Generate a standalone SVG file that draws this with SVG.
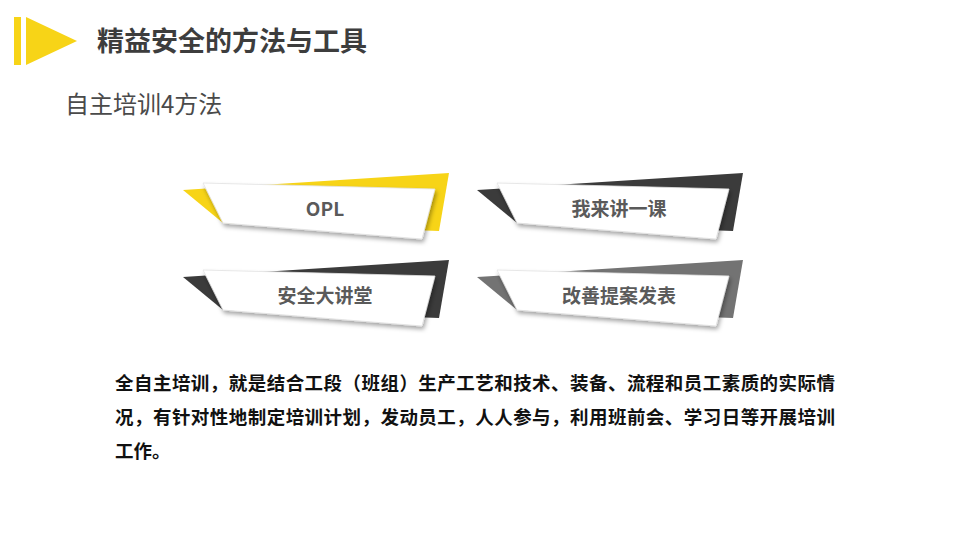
<svg xmlns="http://www.w3.org/2000/svg" width="960" height="540" viewBox="0 0 960 540">
<defs>
<style>
.title{font-family:"Noto Sans CJK SC","Liberation Sans",sans-serif;font-weight:700;font-size:27px;fill:#3d3d3d}
.sub{font-family:"Noto Sans CJK SC","Liberation Sans",sans-serif;font-size:24px;fill:#4a4a4a}
.lbl{font-family:"Noto Sans CJK SC","Liberation Sans",sans-serif;font-weight:700;font-size:19px;fill:#5a5a5a;text-anchor:middle;dominant-baseline:central}
.body{font-family:"Noto Sans CJK SC","Liberation Sans",sans-serif;font-weight:700;font-size:18.5px;fill:#111}
.card{fill:#fff;stroke:#e2e2e2;stroke-width:0.8;filter:url(#sh)}
</style>
<filter id="sh" x="-10%" y="-20%" width="125%" height="160%">
<feDropShadow dx="1.5" dy="3" stdDeviation="2" flood-color="#000" flood-opacity="0.35"/>
</filter>
<polygon id="back" points="0,17 266,0 256,58 40,50"/>
<polygon id="front" points="20,10 252,16 239,66 40,50"/>
</defs>
<g id="header">
<rect x="14" y="17" width="7" height="48" fill="#F7D417"/>
<polygon points="26,17 77,41 26,65" fill="#F7D417"/>
<text class="title" x="97" y="51">精益安全的方法与工具</text>
<text class="sub" x="65" y="113">自主培训4方法</text>
</g>
<g id="card-opl" transform="translate(183,173)">
<use href="#back" fill="#F7D417"/>
<use href="#front" class="card"/>
<text class="lbl" x="142" y="34">OPL</text>
</g>
<g id="card-wolai" transform="translate(477,173)">
<use href="#back" fill="#3b3b3b"/>
<use href="#front" class="card"/>
<text class="lbl" x="142" y="34">我来讲一课</text>
</g>
<g id="card-anquan" transform="translate(183,260)">
<use href="#back" fill="#3b3b3b"/>
<use href="#front" class="card"/>
<text class="lbl" x="142" y="34">安全大讲堂</text>
</g>
<g id="card-gaishan" transform="translate(477,260)">
<use href="#back" fill="#737373"/>
<use href="#front" class="card"/>
<text class="lbl" x="142" y="34">改善提案发表</text>
</g>
<g id="body">
<text class="body" x="115" y="390" textLength="720" lengthAdjust="spacing">全自主培训，就是结合工段（班组）生产工艺和技术、装备、流程和员工素质的实际情</text>
<text class="body" x="115" y="424" textLength="720" lengthAdjust="spacing">况，有针对性地制定培训计划，发动员工，人人参与，利用班前会、学习日等开展培训</text>
<text class="body" x="115" y="458">工作。</text>
</g>
</svg>
